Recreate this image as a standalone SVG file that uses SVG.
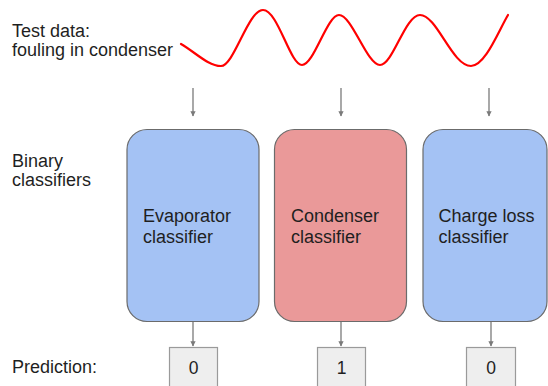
<svg xmlns="http://www.w3.org/2000/svg" width="548" height="386" viewBox="0 0 548 386">
<style>
text{font-family:"Liberation Sans",Arial,sans-serif;font-size:18px;fill:#1f1f1f}
.cls{stroke:#6b6b6b;stroke-width:1.2}
.blue{fill:#a4c2f4}
.red{fill:#ea9999}
.pred{fill:#eeeeee;stroke:#9a9a9a;stroke-width:1.2}
.conn{stroke:#7a7a7a;stroke-width:1.3;fill:none;marker-end:url(#ah)}
.num{text-anchor:middle;font-size:17.5px}
</style>
<defs>
<marker id="ah" viewBox="0 0 10 10" refX="9" refY="5" markerWidth="4" markerHeight="4" orient="auto" markerUnits="strokeWidth">
<path d="M0,0 L10,5 L0,10 z" fill="#7a7a7a"/>
</marker>
</defs>
<rect width="548" height="386" fill="#ffffff"/>
<g id="labels">
<text x="12" y="37">Test data:</text>
<text x="12" y="56">fouling in condenser</text>
<text x="12" y="167">Binary</text>
<text x="12" y="186">classifiers</text>
<text x="12" y="373">Prediction:</text>
</g>
<g id="signal">
<path d="M181,44 C195,52 208,66 221,66 C234,66 248,10 263,10 C278,10 290,65 302,65 C314,65 327,15 339,15 C352,15 367,65 380,65 C393,65 405,15 420,15 C437,15 452,66 471,66 C485,66 498,32 508,15" fill="none" stroke="#ff0000" stroke-width="2.2" stroke-linecap="round"/>
</g>
<g id="connectors">
<line class="conn" x1="193" y1="88" x2="193" y2="116"/>
<line class="conn" x1="341" y1="88" x2="341" y2="116"/>
<line class="conn" x1="489" y1="88" x2="489" y2="116"/>
<line class="conn" x1="193" y1="322" x2="193" y2="346"/>
<line class="conn" x1="341" y1="322" x2="341" y2="346"/>
<line class="conn" x1="491" y1="322" x2="491" y2="346"/>
</g>
<g id="evaporator">
<rect class="cls blue" x="127" y="129.5" width="132" height="192" rx="20"/>
<text x="143" y="221.5">Evaporator</text>
<text x="143" y="242.5">classifier</text>
</g>
<g id="condenser">
<rect class="cls red" x="274.5" y="129.5" width="132" height="192" rx="20"/>
<text x="291" y="221.5">Condenser</text>
<text x="291" y="242.5">classifier</text>
</g>
<g id="chargeloss">
<rect class="cls blue" x="423" y="129.5" width="124" height="192" rx="20"/>
<text x="438.5" y="221.5">Charge loss</text>
<text x="438.5" y="242.5">classifier</text>
</g>
<g id="pred-evaporator">
<rect class="pred" x="169.5" y="347.5" width="48" height="45"/>
<text class="num" x="193.5" y="374">0</text>
</g>
<g id="pred-condenser">
<rect class="pred" x="317.5" y="347.5" width="48" height="45"/>
<text class="num" x="341.5" y="374">1</text>
</g>
<g id="pred-chargeloss">
<rect class="pred" x="466.5" y="347.5" width="49" height="45"/>
<text class="num" x="491" y="374">0</text>
</g>
</svg>
